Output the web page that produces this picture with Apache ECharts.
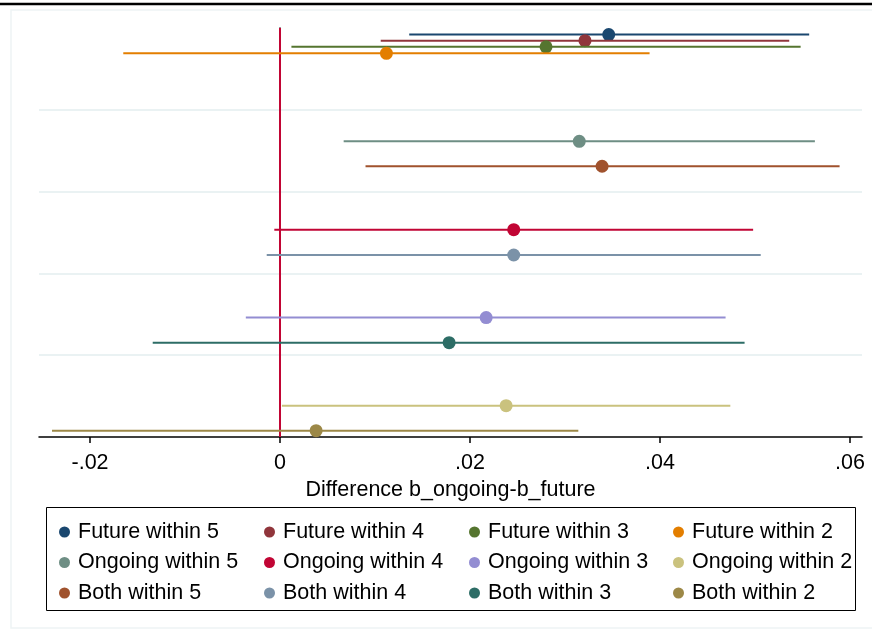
<!DOCTYPE html>
<html>
<head>
<meta charset="utf-8">
<script src="https://cdn.jsdelivr.net/npm/echarts@6/dist/echarts.min.js"></script>
<style>html,body{margin:0;padding:0;background:#fff;}#c{width:872px;height:639px;}</style>
</head>
<body>
<div id="c"></div>
<script>
const seriesNames = [
  'Future within 5','Future within 4','Future within 3','Future within 2',
  'Ongoing within 5','Ongoing within 4','Ongoing within 3','Ongoing within 2',
  'Both within 5','Both within 4','Both within 3','Both within 2'
];
const estimates = [0.0346, 0.0321, 0.0280, 0.0112, 0.0315, 0.0246, 0.0217, 0.0238, 0.0339, 0.0246, 0.0178, 0.0038];
const lowerCI   = [0.0136, 0.0106, 0.0012, -0.0165, 0.0067, -0.0006, -0.0036, 0.0002, 0.0090, -0.0014, -0.0134, -0.0240];
const upperCI   = [0.0557, 0.0536, 0.0548, 0.0389, 0.0563, 0.0498, 0.0469, 0.0474, 0.0589, 0.0506, 0.0489, 0.0314];
const rowPos    = [4.92, 4.845, 4.77, 4.69, 3.615, 2.535, 1.46, 0.383, 3.31, 2.225, 1.153, 0.077];
const xTicks = [-0.02, 0, 0.02, 0.04, 0.06];
const yGrid = [1, 2, 3, 4];
const colors = ['#1a476f','#90353b','#55752f','#e37e00','#6e8e84','#c10534','#938dd2','#cac27e','#a0522d','#7b92a8','#2d6d66','#9c8847'];

const FONT = 'Liberation Sans, Arial, sans-serif';
function fmt(v){ if (Math.abs(v) < 1e-12) return '0'; const s = Math.abs(v).toFixed(2).replace(/^0/, ''); return (v < 0 ? '-' : '') + s; }

const series = [];
series.push({
  name: 'ygrid', type: 'line', data: [], silent: true, z: 1,
  markLine: { silent: true, symbol: 'none', label: { show: false },
    lineStyle: { color: '#eaf2f3', width: 2, type: 'solid', opacity: 1 },
    emphasis: { disabled: true }, z: 1,
    data: yGrid.map(v => ({ yAxis: v })) }
});
series.push({
  name: 'zero', type: 'line', data: [], silent: true, z: 2,
  markLine: { silent: true, symbol: 'none', label: { show: false },
    lineStyle: { color: '#c10534', width: 2, type: 'solid', opacity: 1 },
    emphasis: { disabled: true }, z: 2,
    data: [{ xAxis: 0 }] }
});
seriesNames.forEach((name, i) => series.push({
  name: name,
  type: 'custom',
  itemStyle: { color: colors[i] },
  encode: { x: [0, 1, 2], y: 3 },
  data: [[lowerCI[i], estimates[i], upperCI[i], rowPos[i]]],
  z: 3,
  renderItem: function (params, api) {
    const y = api.value(3);
    const a = api.coord([api.value(0), y]);
    const m = api.coord([api.value(1), y]);
    const b = api.coord([api.value(2), y]);
    const c = api.visual('color');
    return { type: 'group', children: [
      { type: 'line', shape: { x1: a[0], y1: a[1], x2: b[0], y2: b[1] }, style: { stroke: c, lineWidth: 2 } },
      { type: 'circle', shape: { cx: m[0], cy: m[1], r: 6.5 }, style: { fill: c } }
    ]};
  }
}));

const colLefts = [54, 259, 464, 668];
const legends = colLefts.map((l, k) => ({
  orient: 'vertical', left: l, top: 516,
  itemWidth: 11, itemHeight: 11, itemGap: 8.5, icon: 'circle',
  textStyle: { fontFamily: FONT, fontSize: 21.5, color: '#000', lineHeight: 22, padding: [0, 0, 0, 3] },
  data: [seriesNames[k], seriesNames[k + 4], seriesNames[k + 8]]
}));

const chart = echarts.init(document.getElementById('c'), null, { renderer: 'canvas' });
chart.setOption({
  animation: false,
  backgroundColor: '#fff',
  color: colors,
  grid: { left: 39, top: 28, width: 823, height: 409, containLabel: false },
  xAxis: {
    type: 'value', min: -0.02537, max: 0.06126,
    axisLine: { show: true, lineStyle: { color: '#000', width: 1.5 } },
    axisTick: { show: true, customValues: xTicks, length: 6, lineStyle: { color: '#000', width: 1.5 } },
    axisLabel: { customValues: xTicks, formatter: fmt, margin: 15, fontFamily: FONT, fontSize: 21.5, color: '#000' },
    splitLine: { show: false },
    name: 'Difference b_ongoing-b_future', nameLocation: 'middle', nameGap: 38,
    nameTextStyle: { fontFamily: FONT, fontSize: 21.5, color: '#000' }
  },
  yAxis: {
    type: 'value', min: 0, max: 5, interval: 1,
    axisLine: { show: true, lineStyle: { color: '#000', width: 1.5 } },
    axisTick: { show: false }, axisLabel: { show: false },
    splitLine: { show: false }
  },
  legend: legends,
  graphic: [
    { type: 'rect', shape: { x: 11, y: 10, width: 880, height: 618 }, style: { fill: 'none', stroke: '#eef4f5', lineWidth: 1.5 }, silent: true, z: -1 },
    { type: 'line', shape: { x1: 0, y1: 4, x2: 872, y2: 4 }, style: { stroke: '#000', lineWidth: 2.5 }, silent: true },
    { type: 'rect', shape: { x: 46.5, y: 507.5, width: 809, height: 103 }, style: { fill: 'none', stroke: '#000', lineWidth: 1 }, silent: true }
  ],
  series: series
});
</script>
</body>
</html>
